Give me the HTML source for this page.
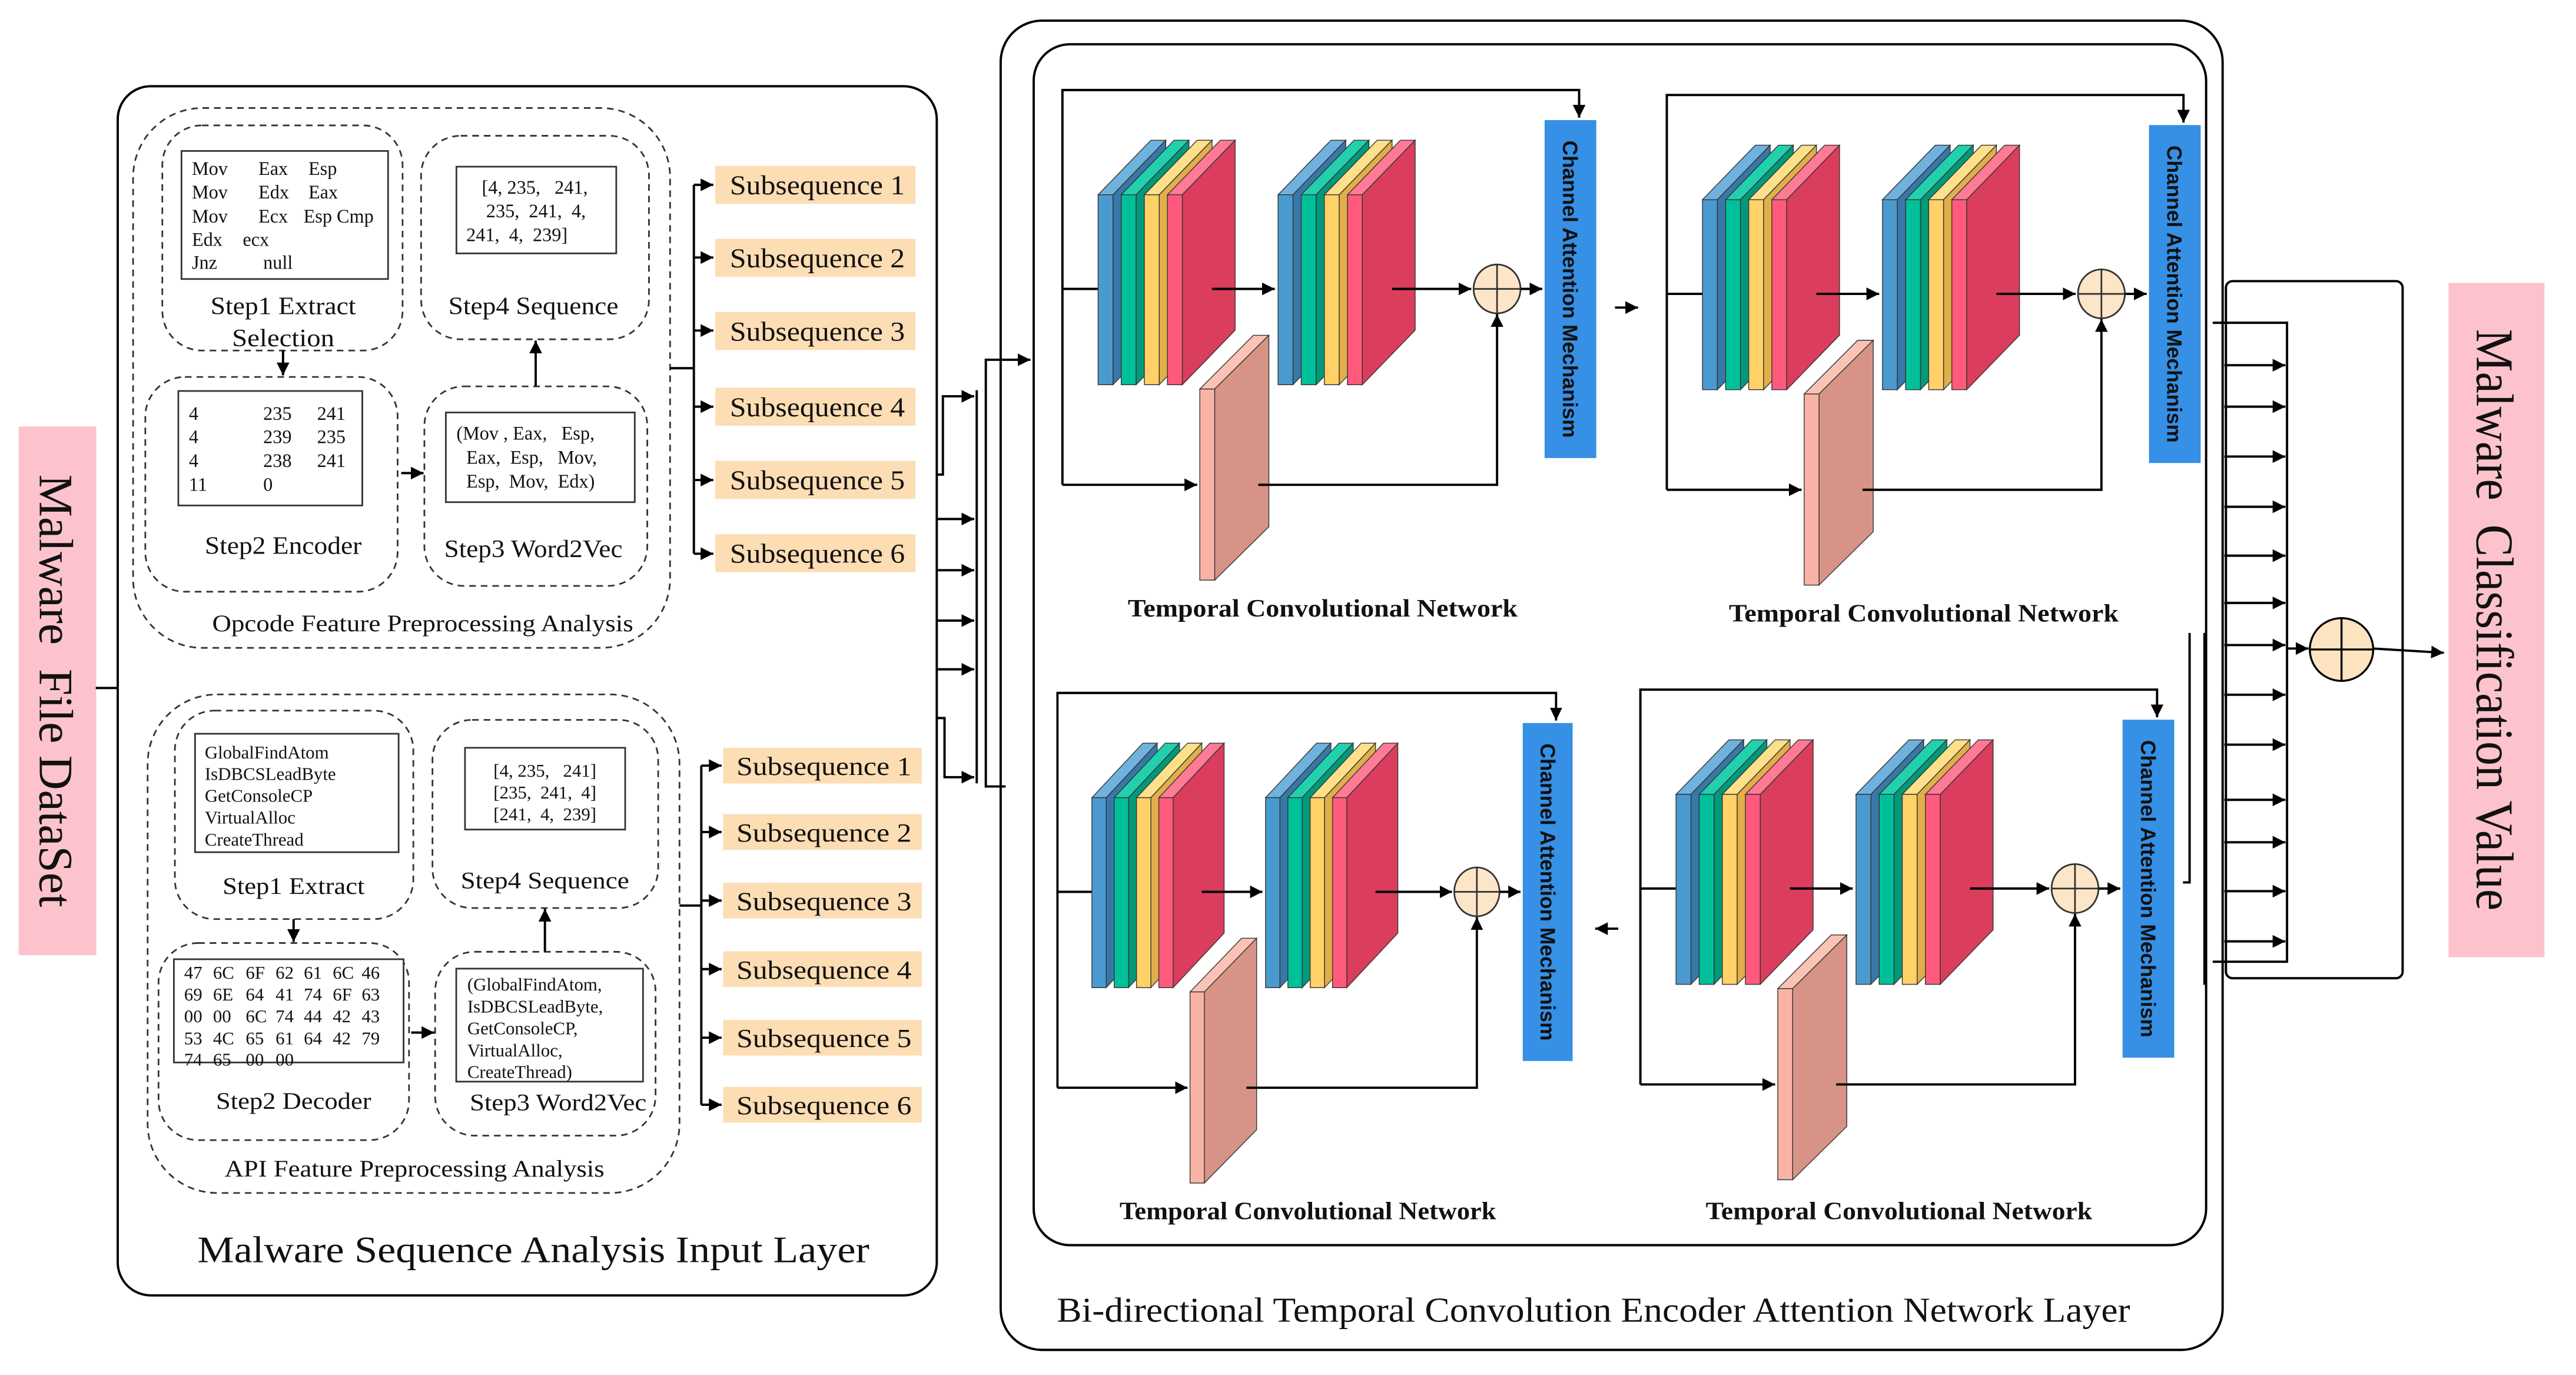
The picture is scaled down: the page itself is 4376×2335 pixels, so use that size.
<!DOCTYPE html>
<html><head><meta charset="utf-8"><style>
html,body{margin:0;padding:0;background:#fff;}
svg{display:block;}
text{white-space:pre;}
.s{font-family:"Liberation Serif",serif;fill:#111;}
.b{font-family:"Liberation Sans","DejaVu Sans",sans-serif;font-weight:bold;fill:#111;}
.ln{fill:none;stroke:#000;stroke-width:1.4;}
.d{fill:none;stroke:#333;stroke-width:1;stroke-dasharray:4 3;}
.bx{fill:#fff;stroke:#333;stroke-width:1;}
.sq{fill:#FDDDB3;}
</style></head><body>
<svg width="4376" height="2335" viewBox="0 0 1560 832" xmlns="http://www.w3.org/2000/svg">
<defs>
<marker id="a" viewBox="0 0 10 10" refX="10" refY="5" markerWidth="5.5" markerHeight="5.5" orient="auto-start-reverse" markerUnits="strokeWidth"><path d="M0,0 L10,5 L0,10 z" fill="#000"/></marker>
<g id="slabs" stroke="#333" stroke-width="0.5">
 <polygon points="0,0 32,-33 41,-33 9,0" fill="#6FB2DD"/><polygon points="9,0 41,-33 41,82 9,115" fill="#3878A8"/><rect x="0" y="0" width="9" height="115" fill="#4A9AD0"/>
 <polygon points="14,0 46,-33 55,-33 23,0" fill="#22D0AE"/><polygon points="23,0 55,-33 55,82 23,115" fill="#009A7A"/><rect x="14" y="0" width="9" height="115" fill="#00C09A"/>
 <polygon points="28,0 60,-33 69,-33 37,0" fill="#FFE08A"/><polygon points="37,0 69,-33 69,82 37,115" fill="#E2AE4A"/><rect x="28" y="0" width="9" height="115" fill="#FFD166"/>
 <polygon points="42,0 74,-33 83,-33 51,0" fill="#FF7A95"/><polygon points="51,0 83,-33 83,82 51,115" fill="#DB3D5D"/><rect x="42" y="0" width="9" height="115" fill="#FF5A7C"/>
</g>
<g id="blk">
 <path class="ln" d="M643.4,293.3 V54.3 H956.3 V71" marker-end="url(#a)"/>
 <path class="ln" d="M643.4,174.7 H665"/>
 <path class="ln" d="M643.4,293.3 H725" marker-end="url(#a)"/>
 <use href="#slabs" x="665" y="117.7"/>
 <use href="#slabs" x="774" y="117.7"/>
 <g stroke="#333" stroke-width="0.5">
  <polygon points="726.6,235.3 759,202.8 768.4,202.8 735.6,235.3" fill="#FBC3B5"/>
  <polygon points="735.6,235.3 768.4,202.8 768.4,318.7 735.6,351" fill="#D79486"/>
  <rect x="726.6" y="235.3" width="9" height="115.7" fill="#F9B3A5"/>
 </g>
 <path class="ln" d="M734,174.7 H772" marker-end="url(#a)" stroke-width="1.8"/>
 <path class="ln" d="M843,174.7 H891" marker-end="url(#a)" stroke-width="1.8"/>
 <path class="ln" d="M762,293.3 H906.6 V190" marker-end="url(#a)"/>
 <ellipse cx="906.6" cy="174.7" rx="14.2" ry="14.8" fill="#FDE5C8" stroke="#333" stroke-width="1"/>
 <path d="M892.4,174.7 H920.8 M906.6,159.9 V189.5" stroke="#333" stroke-width="1"/>
 <path class="ln" d="M921,174.7 H934" marker-end="url(#a)"/>
 <rect x="935.4" y="72.5" width="31.3" height="204.6" fill="#3590E6"/>
</g>
</defs>

<!-- left dataset -->
<rect x="11.3" y="258" width="47" height="320" fill="#FDC3CC"/>
<text class="s" transform="translate(24,418) rotate(90)" text-anchor="middle" font-size="29" textLength="262" lengthAdjust="spacingAndGlyphs">Malware  File DataSet</text>
<path class="ln" d="M58,416.3 H71.3"/>

<!-- input layer -->
<rect x="71.3" y="52" width="496" height="732" rx="20" class="ln" stroke-width="1.5"/>
<text class="s" x="323" y="764" text-anchor="middle" font-size="22.5" textLength="407" lengthAdjust="spacingAndGlyphs">Malware Sequence Analysis Input Layer</text>

<!-- Opcode -->
<rect x="80.6" y="65.2" width="325.2" height="326.8" rx="42" class="d"/>
<rect x="98.3" y="75.7" width="145.5" height="136.3" rx="24" class="d"/>
<rect x="109.9" y="91.2" width="125.1" height="77.5" class="bx"/>
<g class="s" font-size="11.5">
<text x="116.2" y="105.7">Mov</text><text x="156.5" y="105.7">Eax</text><text x="186.8" y="105.7">Esp</text>
<text x="116.2" y="120">Mov</text><text x="156.5" y="120">Edx</text><text x="186.8" y="120">Eax</text>
<text x="116.2" y="134.5">Mov</text><text x="156.5" y="134.5">Ecx</text><text x="183.8" y="134.5">Esp Cmp</text>
<text x="116.2" y="148.7">Edx</text><text x="147" y="148.7">ecx</text>
<text x="116.2" y="162.5">Jnz</text><text x="159.4" y="162.5">null</text>
</g>
<text class="s" x="171.5" y="190" text-anchor="middle" font-size="15" textLength="88" lengthAdjust="spacingAndGlyphs">Step1 Extract</text>
<text class="s" x="171.5" y="209.5" text-anchor="middle" font-size="15" textLength="62" lengthAdjust="spacingAndGlyphs">Selection</text>

<rect x="255" y="82" width="138" height="123.2" rx="24" class="d"/>
<rect x="276.4" y="100.7" width="96.8" height="52.5" class="bx"/>
<g class="s" font-size="11.5"><text x="291.8" y="117">[4, 235,   241,</text><text x="294.4" y="131.4">235,  241,  4,</text><text x="282.4" y="145.7">241,  4,  239]</text></g>
<text class="s" x="323" y="190" text-anchor="middle" font-size="15" textLength="103" lengthAdjust="spacingAndGlyphs">Step4 Sequence</text>

<rect x="88" y="228" width="152.8" height="130" rx="24" class="d"/>
<rect x="108" y="236.5" width="111.4" height="69.3" class="bx"/>
<g class="s" font-size="11.5">
<text x="114.4" y="254">4</text><text x="159.4" y="254">235</text><text x="192" y="254">241</text>
<text x="114.4" y="268">4</text><text x="159.4" y="268">239</text><text x="192" y="268">235</text>
<text x="114.4" y="282.5">4</text><text x="159.4" y="282.5">238</text><text x="192" y="282.5">241</text>
<text x="114.4" y="297">11</text><text x="159.4" y="297">0</text>
</g>
<text class="s" x="171.5" y="335" text-anchor="middle" font-size="15" textLength="95" lengthAdjust="spacingAndGlyphs">Step2 Encoder</text>

<rect x="257" y="233.7" width="135" height="120.8" rx="24" class="d"/>
<rect x="270" y="249.5" width="114.4" height="54.3" class="bx"/>
<g class="s" font-size="11.5"><text x="276.4" y="266">(Mov , Eax,   Esp,</text><text x="282.4" y="280.5">Eax,  Esp,   Mov,</text><text x="282.4" y="295">Esp,  Mov,  Edx)</text></g>
<text class="s" x="323" y="337" text-anchor="middle" font-size="15" textLength="108" lengthAdjust="spacingAndGlyphs">Step3 Word2Vec</text>
<text class="s" x="256" y="382" text-anchor="middle" font-size="14.5" textLength="255" lengthAdjust="spacingAndGlyphs">Opcode Feature Preprocessing Analysis</text>

<path class="ln" stroke-width="1" d="M171.4,212 V227" marker-end="url(#a)"/>
<path class="ln" stroke-width="1" d="M243,286.2 H256.5" marker-end="url(#a)"/>
<path class="ln" stroke-width="1" d="M324.4,233.7 V206" marker-end="url(#a)"/>

<!-- opcode subsequences -->
<path class="ln" d="M405.8,222.7 H420.2 M420.2,111.7 V335"/>
<g class="ln" stroke-width="1.3">
<path d="M420.2,111.7 H432" marker-end="url(#a)"/><path d="M420.2,155.7 H432" marker-end="url(#a)"/><path d="M420.2,199.9 H432" marker-end="url(#a)"/>
<path d="M420.2,246 H432" marker-end="url(#a)"/><path d="M420.2,290.4 H432" marker-end="url(#a)"/><path d="M420.2,335 H432" marker-end="url(#a)"/>
</g>
<rect class="sq" x="433.2" y="100.2" width="121.2" height="23"/><rect class="sq" x="433.2" y="144.4" width="121.2" height="23"/><rect class="sq" x="433.2" y="188.7" width="121.2" height="23"/>
<rect class="sq" x="433.2" y="234.5" width="121.2" height="23"/><rect class="sq" x="433.2" y="278.8" width="121.2" height="23"/><rect class="sq" x="433.2" y="323.2" width="121.2" height="23"/>
<g class="s" font-size="16.5">
<text x="442" y="117.5" textLength="106" lengthAdjust="spacingAndGlyphs">Subsequence 1</text><text x="442" y="161.7" textLength="106" lengthAdjust="spacingAndGlyphs">Subsequence 2</text><text x="442" y="206" textLength="106" lengthAdjust="spacingAndGlyphs">Subsequence 3</text>
<text x="442" y="251.8" textLength="106" lengthAdjust="spacingAndGlyphs">Subsequence 4</text><text x="442" y="296.1" textLength="106" lengthAdjust="spacingAndGlyphs">Subsequence 5</text><text x="442" y="340.5" textLength="106" lengthAdjust="spacingAndGlyphs">Subsequence 6</text>
</g>

<!-- API -->
<rect x="89.4" y="420.2" width="322.1" height="301.8" rx="42" class="d"/>
<rect x="105.9" y="430" width="144.4" height="126.2" rx="24" class="d"/>
<rect x="118.1" y="444" width="123.3" height="71.7" class="bx"/>
<g class="s" font-size="11"><text x="124" y="459">GlobalFindAtom</text><text x="124" y="472">IsDBCSLeadByte</text><text x="124" y="485.2">GetConsoleCP</text><text x="124" y="498.4">VirtualAlloc</text><text x="124" y="511.8">CreateThread</text></g>
<text class="s" x="177.8" y="541" text-anchor="middle" font-size="14.5" textLength="86" lengthAdjust="spacingAndGlyphs">Step1 Extract</text>

<rect x="261.9" y="435.6" width="136.7" height="113.9" rx="24" class="d"/>
<rect x="281.6" y="452.5" width="97" height="49.5" class="bx"/>
<g class="s" font-size="11" text-anchor="middle"><text x="330" y="470">[4, 235,   241]</text><text x="330" y="483.2">[235,  241,  4]</text><text x="330" y="496.4">[241,  4,  239]</text></g>
<text class="s" x="330" y="537.5" text-anchor="middle" font-size="14.5" textLength="102" lengthAdjust="spacingAndGlyphs">Step4 Sequence</text>

<rect x="96" y="570.7" width="151.7" height="119.3" rx="24" class="d"/>
<rect x="105.3" y="580.5" width="139.1" height="62.5" class="bx"/>
<g class="s" font-size="11">
<text y="592.2"><tspan x="111.5">47</tspan><tspan x="129">6C</tspan><tspan x="148.8">6F</tspan><tspan x="166.9">62</tspan><tspan x="184">61</tspan><tspan x="201.5">6C</tspan><tspan x="219">46</tspan></text>
<text y="605.4"><tspan x="111.5">69</tspan><tspan x="129">6E</tspan><tspan x="148.8">64</tspan><tspan x="166.9">41</tspan><tspan x="184">74</tspan><tspan x="201.5">6F</tspan><tspan x="219">63</tspan></text>
<text y="618.6"><tspan x="111.5">00</tspan><tspan x="129">00</tspan><tspan x="148.8">6C</tspan><tspan x="166.9">74</tspan><tspan x="184">44</tspan><tspan x="201.5">42</tspan><tspan x="219">43</tspan></text>
<text y="632"><tspan x="111.5">53</tspan><tspan x="129">4C</tspan><tspan x="148.8">65</tspan><tspan x="166.9">61</tspan><tspan x="184">64</tspan><tspan x="201.5">42</tspan><tspan x="219">79</tspan></text>
<text y="644.8"><tspan x="111.5">74</tspan><tspan x="129">65</tspan><tspan x="148.8">00</tspan><tspan x="166.9">00</tspan></text>
</g>
<text class="s" x="177.8" y="671" text-anchor="middle" font-size="14.5" textLength="94" lengthAdjust="spacingAndGlyphs">Step2 Decoder</text>

<rect x="263.5" y="576" width="133.5" height="111.3" rx="24" class="d"/>
<rect x="276.3" y="586.2" width="113.1" height="68.4" class="bx"/>
<g class="s" font-size="11"><text x="283" y="599.5">(GlobalFindAtom,</text><text x="283" y="612.7">IsDBCSLeadByte,</text><text x="283" y="626">GetConsoleCP,</text><text x="283" y="639.3">VirtualAlloc,</text><text x="283" y="652.3">CreateThread)</text></g>
<text class="s" x="338" y="672" text-anchor="middle" font-size="14.5" textLength="107" lengthAdjust="spacingAndGlyphs">Step3 Word2Vec</text>
<text class="s" x="251" y="712" text-anchor="middle" font-size="14.5" textLength="230" lengthAdjust="spacingAndGlyphs">API Feature Preprocessing Analysis</text>

<path class="ln" stroke-width="1" d="M177.8,556.2 V570" marker-end="url(#a)"/>
<path class="ln" stroke-width="1" d="M249,624.9 H263" marker-end="url(#a)"/>
<path class="ln" stroke-width="1" d="M330,576 V550" marker-end="url(#a)"/>

<path class="ln" d="M411.5,548 H424.7 M424.7,463.3 V668.6"/>
<g class="ln" stroke-width="1.3">
<path d="M424.7,463.3 H437" marker-end="url(#a)"/><path d="M424.7,503.5 H437" marker-end="url(#a)"/><path d="M424.7,545 H437" marker-end="url(#a)"/>
<path d="M424.7,586.5 H437" marker-end="url(#a)"/><path d="M424.7,628 H437" marker-end="url(#a)"/><path d="M424.7,668.6 H437" marker-end="url(#a)"/>
</g>
<rect class="sq" x="437.9" y="452.5" width="120.3" height="21.6"/><rect class="sq" x="437.9" y="492.7" width="120.3" height="21.6"/><rect class="sq" x="437.9" y="534.2" width="120.3" height="21.6"/>
<rect class="sq" x="437.9" y="575.7" width="120.3" height="21.6"/><rect class="sq" x="437.9" y="617.2" width="120.3" height="21.6"/><rect class="sq" x="437.9" y="657.8" width="120.3" height="21.6"/>
<g class="s" font-size="16">
<text x="446" y="469" textLength="106" lengthAdjust="spacingAndGlyphs">Subsequence 1</text><text x="446" y="509.2" textLength="106" lengthAdjust="spacingAndGlyphs">Subsequence 2</text><text x="446" y="550.7" textLength="106" lengthAdjust="spacingAndGlyphs">Subsequence 3</text>
<text x="446" y="592.2" textLength="106" lengthAdjust="spacingAndGlyphs">Subsequence 4</text><text x="446" y="633.7" textLength="106" lengthAdjust="spacingAndGlyphs">Subsequence 5</text><text x="446" y="674.3" textLength="106" lengthAdjust="spacingAndGlyphs">Subsequence 6</text>
</g>

<!-- connectors between layers -->
<g class="ln" stroke-width="1.4">
<path d="M567,287.1 H571 V239.7 H590" marker-end="url(#a)"/>
<path d="M567,314 H590" marker-end="url(#a)"/>
<path d="M567,345 H590" marker-end="url(#a)"/>
<path d="M567,375.5 H590" marker-end="url(#a)"/>
<path d="M567,405 H590" marker-end="url(#a)"/>
<path d="M567,434.5 H572 V470.3 H590" marker-end="url(#a)"/>
<path d="M591.5,236 V474"/>
<path d="M609,475.9 H597 V217.6 H624" marker-end="url(#a)"/>
</g>

<!-- BTCN outer -->
<rect x="606" y="12.3" width="740" height="804.7" rx="25" class="ln" stroke-width="1.5"/>
<rect x="626" y="26.6" width="710" height="727" rx="22" class="ln" stroke-width="1.5"/>
<text class="s" x="965" y="800" text-anchor="middle" font-size="21" textLength="650" lengthAdjust="spacingAndGlyphs">Bi-directional Temporal Convolution Encoder Attention Network Layer</text>

<!-- blocks -->
<use href="#blk"/>
<use href="#blk" transform="translate(366,3)"/>
<use href="#blk" transform="translate(640,365) scale(0.965,1) translate(-643,0)"/>
<use href="#blk" transform="translate(350,363)"/>

<g class="b" font-size="12.5">
<text transform="translate(946.5,174.8) rotate(90)" text-anchor="middle" textLength="180" lengthAdjust="spacingAndGlyphs">Channel Attention Mechanism</text>
<text transform="translate(1312.5,177.8) rotate(90)" text-anchor="middle" textLength="180" lengthAdjust="spacingAndGlyphs">Channel Attention Mechanism</text>
<text transform="translate(933,539.8) rotate(90)" text-anchor="middle" textLength="180" lengthAdjust="spacingAndGlyphs">Channel Attention Mechanism</text>
<text transform="translate(1296.5,537.8) rotate(90)" text-anchor="middle" textLength="180" lengthAdjust="spacingAndGlyphs">Channel Attention Mechanism</text>
</g>
<g class="s" font-weight="bold" font-size="15" text-anchor="middle">
<text x="801" y="373" textLength="236" lengthAdjust="spacingAndGlyphs">Temporal Convolutional Network</text>
<text x="1165" y="376" textLength="236" lengthAdjust="spacingAndGlyphs">Temporal Convolutional Network</text>
<text x="792" y="738" textLength="228" lengthAdjust="spacingAndGlyphs">Temporal Convolutional Network</text>
<text x="1150" y="738" textLength="234" lengthAdjust="spacingAndGlyphs">Temporal Convolutional Network</text>
</g>
<path class="ln" stroke-width="1" d="M978,186 H992" marker-end="url(#a)"/>
<path class="ln" stroke-width="1" d="M980,562 H966" marker-end="url(#a)"/>

<!-- aggregator -->
<path class="ln" d="M1335,383 V596"/>
<path class="ln" d="M1326,383 V534 H1322"/>
<rect x="1348" y="170" width="107" height="422" rx="4" class="ln" stroke-width="1.4"/>
<path class="ln" d="M1340,195.2 H1385 V582 H1340"/>
<g class="ln" stroke-width="1.2">
<path d="M1347,220.9 H1384" marker-end="url(#a)"/><path d="M1347,246 H1384" marker-end="url(#a)"/><path d="M1347,276.2 H1384" marker-end="url(#a)"/>
<path d="M1347,306.6 H1384" marker-end="url(#a)"/><path d="M1347,336.2 H1384" marker-end="url(#a)"/><path d="M1347,364.8 H1384" marker-end="url(#a)"/>
<path d="M1347,390.3 H1384" marker-end="url(#a)"/><path d="M1347,420.4 H1384" marker-end="url(#a)"/><path d="M1347,450.6 H1384" marker-end="url(#a)"/>
<path d="M1347,484 H1384" marker-end="url(#a)"/><path d="M1347,509.7 H1384" marker-end="url(#a)"/><path d="M1347,539.3 H1384" marker-end="url(#a)"/>
<path d="M1347,569.7 H1384" marker-end="url(#a)"/>
<path d="M1385,392.4 H1398" marker-end="url(#a)"/>
<path d="M1437,392.4 L1480,395" marker-end="url(#a)"/>
</g>
<ellipse cx="1418" cy="393" rx="19.2" ry="19" fill="#FDE3BF" stroke="#000" stroke-width="1.2"/>
<path d="M1398.8,393 H1437.2 M1418,374 V412" stroke="#000" stroke-width="1.2"/>
<rect x="1482.8" y="171.1" width="58.1" height="408.2" fill="#FDC3CC"/>
<text class="s" transform="translate(1500,375) rotate(90)" text-anchor="middle" font-size="32" textLength="352" lengthAdjust="spacingAndGlyphs">Malware  Classification Value</text>
</svg>
</body></html>
